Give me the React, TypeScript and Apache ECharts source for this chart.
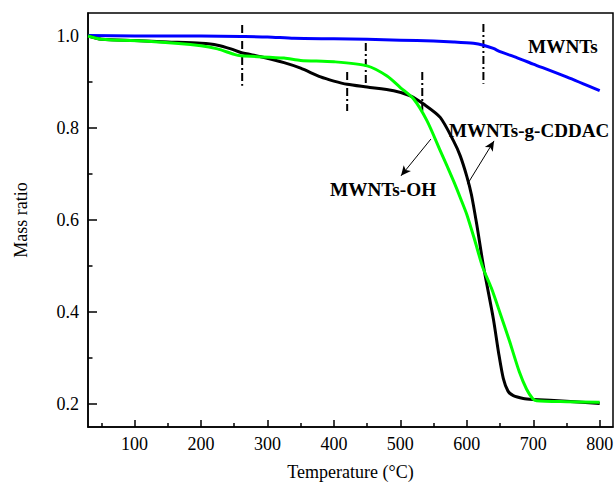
import React, { useEffect, useRef } from "react";
import * as echarts from "echarts";

// MWNTs (blue)
const mwntsT = [30, 100, 200, 260, 300, 340, 400, 450, 500, 550, 580, 610, 625, 640, 650, 675, 700, 750, 800];
const mwntsM = [1.001, 1.0, 1.0, 0.999, 0.998, 0.995, 0.994, 0.993, 0.991, 0.989, 0.987, 0.984, 0.98, 0.973, 0.966, 0.953, 0.939, 0.911, 0.881];

// MWNTs-g-CDDAC (black)
const cddacT = [30, 50, 100, 150, 200, 225, 245, 260, 290, 325, 350, 380, 400, 420, 450, 490, 515, 535, 560, 580, 590, 600, 607, 615, 625, 640, 648, 655, 662, 670, 685, 700, 750, 800];
const cddacM = [1.0, 0.993, 0.99, 0.987, 0.984, 0.98, 0.972, 0.964, 0.955, 0.942, 0.93, 0.911, 0.902, 0.895, 0.889, 0.881, 0.87, 0.852, 0.823, 0.772, 0.74, 0.695, 0.655, 0.59, 0.5, 0.385, 0.31, 0.255, 0.228, 0.218, 0.212, 0.21, 0.206, 0.201];

// MWNTs-OH (green)
const ohT = [30, 50, 125, 200, 225, 250, 260, 325, 350, 400, 450, 480, 500, 520, 540, 560, 580, 592, 600, 612, 624, 637, 650, 664, 679, 690, 699, 705, 750, 800];
const ohM = [1.0, 0.993, 0.988, 0.979, 0.972, 0.96, 0.957, 0.952, 0.947, 0.944, 0.935, 0.913, 0.888, 0.863, 0.816, 0.751, 0.685, 0.642, 0.612, 0.556, 0.497, 0.452, 0.398, 0.338, 0.27, 0.232, 0.212, 0.207, 0.205, 0.204];

// dash-dot marker lines
const dashT = [262, 420, 448, 533, 625];
const dashTop = [1.024, 0.922, 0.985, 0.922, 1.026];
const dashBottom = [0.892, 0.837, 0.898, 0.837, 0.896];

// arrows [from, to]
const arrowOH = [[546, 0.776], [501, 0.696]];
const arrowCDDAC = [[601, 0.678], [641, 0.772]];

// ticks
const xMajor = [100, 200, 300, 400, 500, 600, 700, 800];
const xMinor = [50, 150, 250, 350, 450, 550, 650, 750];
const yMajor = [0.2, 0.4, 0.6, 0.8, 1.0];
const yMinor = [0.3, 0.5, 0.7, 0.9];

const FONT = "'Liberation Serif', 'Times New Roman', serif";

const zip = (a: number[], b: number[]) => a.map((v, i) => [v, b[i]]);

export default function App() {
  const ref = useRef<HTMLDivElement>(null);
  useEffect(() => {
    document.body.style.margin = "0";
    const chart = echarts.init(ref.current!, null, { renderer: "svg" });
    const axisLine = { show: true, onZero: false, lineStyle: { color: "#000", width: 1.5 } };
    const dashSeries = dashT.map((t, i) => ({
      type: "line",
      data: [[t, dashTop[i]], [t, dashBottom[i]]],
      symbol: "none",
      silent: true,
      lineStyle: { color: "#000", width: 2, type: [8, 3, 2, 3] },
      z: 1,
    }));
    const curve = (name: string, t: number[], m: number[], color: string, z: number) => ({
      name,
      type: "line",
      data: zip(t, m),
      symbol: "none",
      smooth: 0.25,
      lineStyle: { color, width: 3, join: "round" },
      z,
    });
    chart.setOption({
      animation: false,
      grid: {
        left: 88,
        right: 2,
        top: 13,
        bottom: 57,
        show: true,
        borderColor: "#000",
        borderWidth: 1.5,
        outerBoundsMode: "none",
      },
      xAxis: [
        {
          type: "value",
          min: 30,
          max: 820,
          position: "bottom",
          axisLine,
          axisTick: { show: true, inside: true, length: 7, customValues: xMajor, lineStyle: { color: "#000", width: 1.5 } },
          axisLabel: { customValues: xMajor, fontSize: 18, fontFamily: FONT, color: "#000", margin: 8 },
          splitLine: { show: false },
          name: "Temperature (°C)",
          nameLocation: "middle",
          nameGap: 36,
          nameTextStyle: { fontSize: 18, fontFamily: FONT, color: "#000" },
        },
        {
          type: "value",
          min: 30,
          max: 820,
          position: "bottom",
          axisLine: { show: false },
          axisTick: { show: true, inside: true, length: 4, customValues: xMinor, lineStyle: { color: "#000", width: 1.5 } },
          axisLabel: { show: false },
          splitLine: { show: false },
        },
      ],
      yAxis: [
        {
          type: "value",
          min: 0.15,
          max: 1.05,
          position: "left",
          axisLine,
          axisTick: { show: true, inside: true, length: 9, customValues: yMajor, lineStyle: { color: "#000", width: 1.5 } },
          axisLabel: {
            customValues: yMajor,
            fontSize: 18,
            fontFamily: FONT,
            color: "#000",
            margin: 9,
            formatter: (v: number) => v.toFixed(1),
          },
          splitLine: { show: false },
          name: "Mass ratio",
          nameLocation: "middle",
          nameGap: 58,
          nameTextStyle: { fontSize: 18, fontFamily: FONT, color: "#000" },
        },
        {
          type: "value",
          min: 0.15,
          max: 1.05,
          position: "left",
          axisLine: { show: false },
          axisTick: { show: true, inside: true, length: 4.5, customValues: yMinor, lineStyle: { color: "#000", width: 1.5 } },
          axisLabel: { show: false },
          splitLine: { show: false },
        },
      ],
      series: [
        ...dashSeries,
        curve("MWNTs", mwntsT, mwntsM, "#0000ff", 3),
        {
          ...curve("MWNTs-g-CDDAC", cddacT, cddacM, "#000000", 3),
          markLine: {
            silent: true,
            symbol: ["none", "arrow"],
            symbolSize: [7, 10],
            label: { show: false },
            lineStyle: { color: "#000", width: 1, type: "solid" },
            data: [
              [{ coord: arrowOH[0] }, { coord: arrowOH[1] }],
              [{ coord: arrowCDDAC[0] }, { coord: arrowCDDAC[1] }],
            ],
          },
        },
        curve("MWNTs-OH", ohT, ohM, "#00ff00", 4),
      ],
      graphic: [
        {
          type: "text",
          x: 528,
          y: 47,
          scaleX: 1.07,
          style: { text: "MWNTs", font: `bold 18px ${FONT}`, fill: "#000", verticalAlign: "middle" },
        },
        {
          type: "text",
          x: 449,
          y: 131,
          scaleX: 1.06,
          style: { text: "MWNTs-g-CDDAC", font: `bold 18px ${FONT}`, fill: "#000", verticalAlign: "middle" },
        },
        {
          type: "text",
          x: 330,
          y: 190,
          scaleX: 1.07,
          style: { text: "MWNTs-OH", font: `bold 18px ${FONT}`, fill: "#000", verticalAlign: "middle" },
        },
      ],
    });
    return () => chart.dispose();
  }, []);
  return <div ref={ref} style={{ width: 615, height: 484 }} />;
}
